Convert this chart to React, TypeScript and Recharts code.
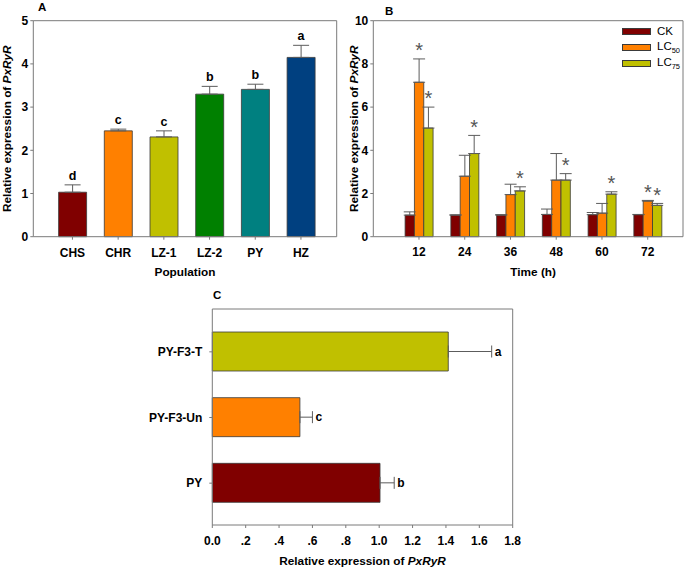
import React from "react";
import { BarChart, Bar, XAxis, YAxis, ErrorBar, Cell, LabelList, Legend } from "recharts";

const FONT = "'Liberation Sans', Arial, sans-serif";
const AXIS = "#7a7a7a";
const ERR = "#5c5c5c";
const EDGE = "#3a3a3a";

// A: population comparison
const populations = ["CHS", "CHR", "LZ-1", "LZ-2", "PY", "HZ"];
const popMeans = [1.03, 2.45, 2.31, 3.3, 3.41, 4.15];
const popErr = [0.17, 0.04, 0.14, 0.18, 0.12, 0.28];
const popLetters = ["d", "c", "c", "b", "b", "a"];
const popColors = ["#800000", "#ff8000", "#c0c000", "#008000", "#008080", "#004080"];
const popTicks = [0, 1, 2, 3, 4, 5];

// B: time course
const times = ["12", "24", "36", "48", "60", "72"];
const ckMeans = [1.0, 1.0, 1.0, 1.03, 1.02, 1.02];
const ckErr = [0.15, 0.01, 0.02, 0.25, 0.1, 0.01];
const lc50Means = [7.15, 2.8, 1.95, 2.62, 1.09, 1.65];
const lc50Err = [1.08, 0.97, 0.48, 1.23, 0.45, 0.03];
const lc75Means = [5.03, 3.85, 2.12, 2.62, 1.97, 1.45];
const lc75Err = [0.97, 0.84, 0.19, 0.3, 0.11, 0.09];
const lc50Sig = [true, false, false, false, false, true];
const lc75Sig = [true, true, true, true, true, true];
const timeTicks = [0, 2, 4, 6, 8, 10];

// C: selected lines
const strains = ["PY-F3-T", "PY-F3-Un", "PY"];
const strainMeans = [1.414, 0.525, 1.005];
const strainErr = [0.26, 0.075, 0.085];
const strainLetters = ["a", "c", "b"];
const strainColors = ["#c0c000", "#ff8000", "#800000"];
const strainTicks = [0, 0.2, 0.4, 0.6, 0.8, 1.0, 1.2, 1.4, 1.6, 1.8];

const popData = populations.map((p, i) => ({
  name: p,
  value: popMeans[i],
  err: [0, popErr[i]],
  letter: popLetters[i],
}));

const timeData = times.map((t, i) => ({
  time: t,
  ck: ckMeans[i],
  ckErr: [0, ckErr[i]],
  lc50: lc50Means[i],
  lc50Err: [0, lc50Err[i]],
  lc50Sig: lc50Sig[i] ? "*" : "",
  lc75: lc75Means[i],
  lc75Err: [0, lc75Err[i]],
  lc75Sig: lc75Sig[i] ? "*" : "",
}));

const strainData = strains.map((s, i) => ({
  name: s,
  value: strainMeans[i],
  err: [0, strainErr[i]],
  letter: strainLetters[i],
}));

const tickStyle = { fill: "#000", fontSize: 12, fontWeight: "bold", fontFamily: FONT };

const geneName = <tspan fontStyle="italic">PxRyR</tspan>;

const yTitle = (cx: number) => (props: any) => {
  const vb = props.viewBox;
  const cy = vb.y + vb.height / 2;
  return (
    <text
      x={cx}
      y={cy}
      transform={`rotate(-90 ${cx} ${cy})`}
      textAnchor="middle"
      dominantBaseline="central"
      fontFamily={FONT}
      fontWeight="bold"
      fontSize={11.8}
      fill="#000"
    >
      Relative expression of {geneName}
    </text>
  );
};

const xTitle = (content: React.ReactNode, dy: number, dx = 0) => (props: any) => {
  const vb = props.viewBox;
  return (
    <text
      x={vb.x + vb.width / 2 + dx}
      y={vb.y + dy}
      textAnchor="middle"
      fontFamily={FONT}
      fontWeight="bold"
      fontSize={11.8}
      fill="#000"
    >
      {content}
    </text>
  );
};

// letter / asterisk placed above the top of the error bar
const aboveErr = (means: number[], errs: number[], opts: { size: number; gap: number; weight: string; color: string }) =>
  (props: any) => {
    const { x, y, width, height, value, index } = props;
    if (!value) return null;
    const h = Math.abs(height);
    const errPx = (h * errs[index]) / means[index];
    return (
      <text
        x={x + width / 2}
        y={y - errPx - opts.gap}
        textAnchor="middle"
        fontFamily={FONT}
        fontWeight={opts.weight}
        fontSize={opts.size}
        fill={opts.color}
      >
        {value}
      </text>
    );
  };

const rightOfErr = (props: any) => {
  const { x, y, width, height, value, index } = props;
  const errPx = (width * strainErr[index]) / strainMeans[index];
  return (
    <text
      x={x + width + errPx + 3}
      y={y + height / 2}
      dominantBaseline="central"
      fontFamily={FONT}
      fontWeight="bold"
      fontSize={12}
      fill="#000"
    >
      {value}
    </text>
  );
};

const renderLegend = (props: any) => (
  <div style={{ fontFamily: FONT, fontSize: 11.5, color: "#000" }}>
    {(props.payload || []).map((entry: any) => {
      const m = /^([A-Za-z]+)(\d*)$/.exec(String(entry.value)) || ["", String(entry.value), ""];
      return (
        <div key={entry.value} style={{ display: "flex", alignItems: "center", height: 16 }}>
          <span
            style={{
              display: "inline-block",
              width: 27,
              height: 5,
              background: entry.color,
              border: `1px solid ${EDGE}`,
              marginRight: 6,
            }}
          />
          <span>
            {m[1]}
            {m[2] ? <sub style={{ fontSize: 7.5, verticalAlign: -3 }}>{m[2]}</sub> : null}
          </span>
        </div>
      );
    })}
  </div>
);

// axis boxes with zero size are skipped, so the frame axes get 1px
function PanelA() {
  return (
    <BarChart width={340} height={290} data={popData} margin={{ top: 19.7, right: 2.3, left: 0, bottom: 0 }}>
      <XAxis
        dataKey="name"
        height={53.3}
        padding={{ left: 16.3, right: 12.9 }}
        stroke={AXIS}
        tickSize={3}
        tickMargin={9}
        tick={tickStyle}
        interval={0}
        label={xTitle("Population", 39.5)}
      />
      <XAxis xAxisId="top" orientation="top" height={1} tick={false} tickLine={false} stroke={AXIS} />
      <YAxis
        width={33.3}
        domain={[0, 5]}
        ticks={popTicks}
        stroke={AXIS}
        tickSize={3}
        tickMargin={2}
        tick={tickStyle}
        label={yTitle(7.5)}
      />
      <YAxis yAxisId="right" orientation="right" width={1} tick={false} tickLine={false} stroke={AXIS} />
      <Bar dataKey="value" barSize={28} stroke={EDGE} strokeWidth={0.8} isAnimationActive={false}>
        {popData.map((d, i) => (
          <Cell key={d.name} fill={popColors[i]} />
        ))}
        <ErrorBar dataKey="err" width={8} stroke={ERR} strokeWidth={1} />
        <LabelList
          dataKey="letter"
          content={aboveErr(popMeans, popErr, { size: 12.5, gap: 5, weight: "bold", color: "#000" })}
        />
      </Bar>
    </BarChart>
  );
}

function PanelB() {
  return (
    <BarChart
      width={345}
      height={290}
      data={timeData}
      barGap={0}
      margin={{ top: 19.7, right: 1, left: 0, bottom: 0 }}
    >
      <XAxis
        dataKey="time"
        height={53.3}
        padding={{ left: 22.8, right: 12.4 }}
        stroke={AXIS}
        tickSize={3}
        tickMargin={8}
        tick={tickStyle}
        interval={0}
        label={xTitle("Time (h)", 39.5, 5)}
      />
      <XAxis xAxisId="top" orientation="top" height={1} tick={false} tickLine={false} stroke={AXIS} />
      <YAxis
        width={33.3}
        domain={[0, 10]}
        ticks={timeTicks}
        stroke={AXIS}
        tickSize={3}
        tickMargin={2}
        tick={tickStyle}
        label={yTitle(14.5)}
      />
      <YAxis yAxisId="right" orientation="right" width={1} tick={false} tickLine={false} stroke={AXIS} />
      <Legend
        layout="vertical"
        align="center"
        verticalAlign="middle"
        content={renderLegend}
        wrapperStyle={{ left: 282, top: 23, width: 63 }}
      />
      <Bar dataKey="ck" name="CK" fill="#800000" barSize={9.33} stroke={EDGE} strokeWidth={0.8} isAnimationActive={false}>
        <ErrorBar dataKey="ckErr" width={6} stroke={ERR} strokeWidth={1} />
      </Bar>
      <Bar dataKey="lc50" name="LC50" fill="#ff8000" barSize={9.33} stroke={EDGE} strokeWidth={0.8} isAnimationActive={false}>
        <ErrorBar dataKey="lc50Err" width={6} stroke={ERR} strokeWidth={1} />
        <LabelList
          dataKey="lc50Sig"
          content={aboveErr(lc50Means, lc50Err, { size: 20, gap: 1.7, weight: "normal", color: "#555" })}
        />
      </Bar>
      <Bar dataKey="lc75" name="LC75" fill="#c0c000" barSize={9.33} stroke={EDGE} strokeWidth={0.8} isAnimationActive={false}>
        <ErrorBar dataKey="lc75Err" width={6} stroke={ERR} strokeWidth={1} />
        <LabelList
          dataKey="lc75Sig"
          content={aboveErr(lc75Means, lc75Err, { size: 20, gap: 1.7, weight: "normal", color: "#555" })}
        />
      </Bar>
    </BarChart>
  );
}

function PanelC() {
  return (
    <BarChart
      width={420}
      height={280}
      data={strainData}
      layout="vertical"
      margin={{ top: 18, right: 16.3, left: 0, bottom: 0 }}
    >
      <XAxis
        type="number"
        domain={[0, 1.8]}
        ticks={strainTicks}
        height={45}
        stroke={AXIS}
        tickSize={3}
        tickMargin={8}
        tick={tickStyle}
        interval={0}
        tickFormatter={(v: number) => (v === 0 ? "0.0" : v < 1 ? "." + Math.round(v * 10) : v.toFixed(1))}
        label={xTitle(<>Relative expression of {geneName}</>, 39.5)}
      />
      <XAxis xAxisId="top" type="number" domain={[0, 1.8]} orientation="top" height={1} tick={false} tickLine={false} stroke={AXIS} />
      <YAxis
        type="category"
        dataKey="name"
        width={102.3}
        padding={{ top: 10, bottom: 9 }}
        stroke={AXIS}
        tickSize={3}
        tickMargin={7}
        tick={tickStyle}
        interval={0}
      />
      <YAxis yAxisId="right" type="category" orientation="right" width={1} tick={false} tickLine={false} stroke={AXIS} />
      <Bar dataKey="value" barSize={39} stroke={EDGE} strokeWidth={0.8} isAnimationActive={false}>
        {strainData.map((d, i) => (
          <Cell key={d.name} fill={strainColors[i]} />
        ))}
        <ErrorBar dataKey="err" direction="x" width={6} stroke={ERR} strokeWidth={1} />
        <LabelList dataKey="letter" content={rightOfErr} />
      </Bar>
    </BarChart>
  );
}

export default function App() {
  return (
    <div style={{ position: "absolute", left: 0, top: 0, width: 685, height: 570, background: "#fff" }}>
      <div style={{ position: "absolute", left: 0, top: 0 }}>
        <PanelA />
      </div>
      <div style={{ position: "absolute", left: 340, top: 0 }}>
        <PanelB />
      </div>
      <div style={{ position: "absolute", left: 110, top: 290 }}>
        <PanelC />
      </div>
      <svg width={685} height={570} style={{ position: "absolute", left: 0, top: 0, pointerEvents: "none" }}>
        <g fontFamily={FONT} fontWeight="bold" fontSize={11.5} fill="#000">
          <text x={38} y={10.7}>A</text>
          <text x={385} y={15}>B</text>
          <text x={213} y={299}>C</text>
        </g>
      </svg>
    </div>
  );
}
